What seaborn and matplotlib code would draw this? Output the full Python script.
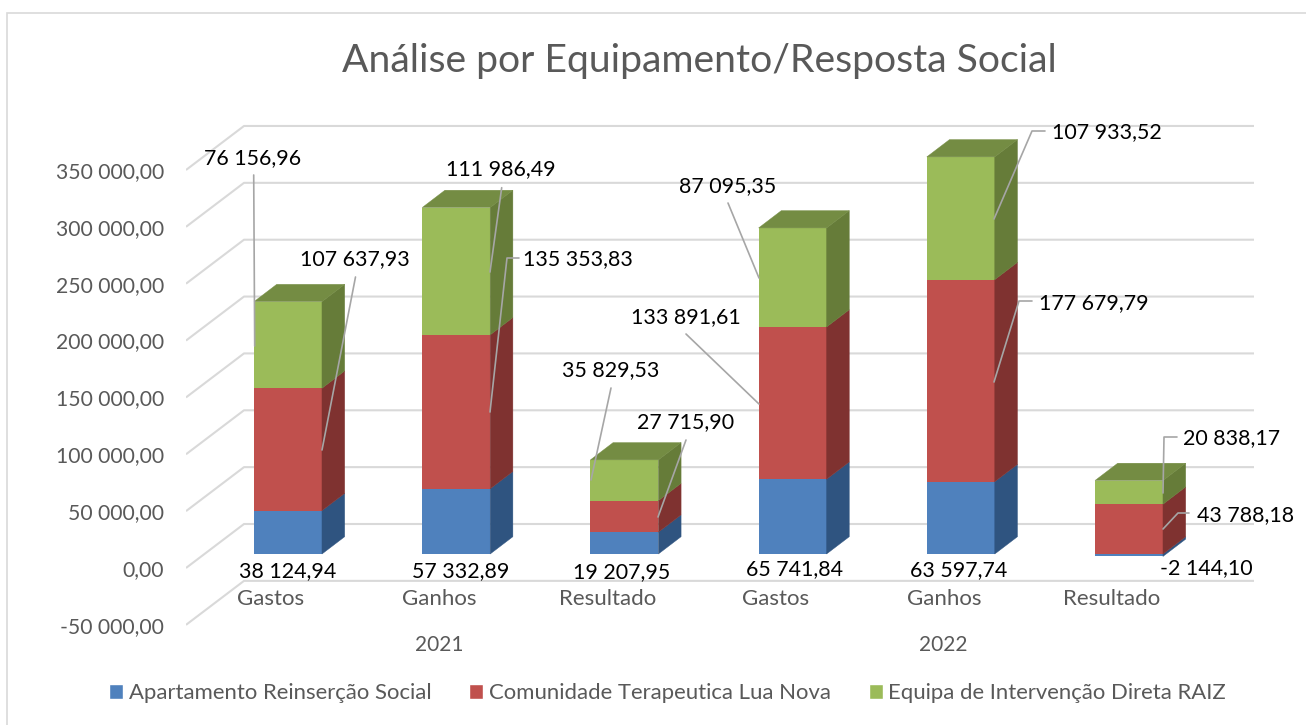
import matplotlib
matplotlib.use('Agg')
import matplotlib.pyplot as plt
import pandas as pd
import seaborn as sns
from matplotlib.patches import Polygon, Rectangle
from matplotlib.transforms import ScaledTranslation

# Data
categories = ['Gastos', 'Ganhos', 'Resultado', 'Gastos', 'Ganhos', 'Resultado']
years = ['2021', '2022']
series_names = ['Apartamento Reinserção Social', 'Comunidade Terapeutica Lua Nova', 'Equipa de Intervenção Direta RAIZ']
apartamento = [38124.94, 57332.89, 19207.95, 65741.84, 63597.74, -2144.10]
comunidade = [107637.93, 135353.83, 27715.90, 133891.61, 177679.79, 43788.18]
equipa = [76156.96, 111986.49, 35829.53, 87095.35, 107933.52, 20838.17]
y_ticks = [-50000, 0, 50000, 100000, 150000, 200000, 250000, 300000, 350000]

W, H = 1306, 725
FONT = 'Lato'
GREY = '#595959'
GRID = '#D9D9D9'
front_cols = ['#4F81BD', '#C0504D', '#9BBB59']
side_cols = ['#2F5480', '#7F3230', '#667C39']
top_cols = ['#3F6A9E', '#A04340', '#748C43']

sns.set_style('white')
plt.rcParams['font.family'] = [FONT, 'DejaVu Sans']


def pix(x, y):
    return x / W, 1 - y / H


def fmt(v):
    return f'{v:,.2f}'.replace(',', ' ').replace('.', ',')


df = pd.DataFrame({'pos': range(6), 'a': apartamento, 'c': comunidade, 'e': equipa})

fig = plt.figure(figsize=(W / 100, H / 100), dpi=100)
# axes box, pixels of the image: x 186-1254, 0 of the bars at y=554
px_per_unit = 56.86 / 50000
y_bottom = 640
y_top = 100
ax = fig.add_axes([186 / W, 1 - y_bottom / H, (1254 - 186) / W, (y_bottom - y_top) / H])

# stacked bars
bar_kw = dict(saturation=1, width=0.404, ax=ax, zorder=3, linewidth=0)
pos_bottom = [max(v, 0) for v in apartamento]
top_bottom = [p + c for p, c in zip(pos_bottom, comunidade)]
sns.barplot(data=df, x='pos', y='a', color=front_cols[0], **bar_kw)
sns.barplot(data=df, x='pos', y='c', color=front_cols[1], bottom=pos_bottom, **bar_kw)
sns.barplot(data=df, x='pos', y='e', color=front_cols[2], bottom=top_bottom, **bar_kw)

cat_px = 168.2
ax.set_xlim(-(288 - 186) / cat_px, (1254 - 288) / cat_px)
ax.set_ylim(-(y_bottom - 554) / px_per_unit, (554 - y_top) / px_per_unit)

# depth of the columns and of the floor/walls
bar_dx, bar_dy = 22.7 / cat_px, 17.3 / px_per_unit
for s, bars in enumerate([ax.patches[:6], ax.patches[6:12], ax.patches[12:18]]):
    for b in bars:
        x0, x1 = b.get_x(), b.get_x() + b.get_width()
        y0, y1 = b.get_y(), b.get_y() + b.get_height()
        ax.add_patch(Polygon([(x1, y0), (x1 + bar_dx, y0 + bar_dy), (x1 + bar_dx, y1 + bar_dy), (x1, y1)],
                             facecolor=side_cols[s], edgecolor=side_cols[s], lw=0.3, zorder=3))
        if s == 2:
            ax.add_patch(Polygon([(x0, y1), (x0 + bar_dx, y1 + bar_dy), (x1 + bar_dx, y1 + bar_dy), (x1, y1)],
                                 facecolor=top_cols[s], edgecolor=top_cols[s], lw=0.3, zorder=3))

# back wall gridlines and the diagonal side wall
back_shift = (554 - 524) / px_per_unit
front_shift = -(568 - 554) / px_per_unit
x_left = ax.get_xlim()[0]
x_back = x_left + (244 - 186) / cat_px
for t in y_ticks:
    ax.plot([x_left, x_back, ax.get_xlim()[1]], [t + front_shift, t + back_shift, t + back_shift],
            color=GRID, lw=1.5, zorder=1, solid_capstyle='butt', scalex=False, scaley=False)

# axes text
sns.despine(ax=ax, left=True, bottom=True)
ax.set_xlabel('')
ax.set_ylabel('')
ax.set_yticks(y_ticks)
ax.set_yticklabels([fmt(t) for t in y_ticks], fontsize=15.2, color=GREY)
ax.tick_params(axis='y', length=0, pad=16)
ax.set_xticks(range(6))
ax.set_xticklabels(categories, fontsize=16, color=GREY)
ax.tick_params(axis='x', length=0, pad=0)
down14 = ScaledTranslation(0, -14 / 100, fig.dpi_scale_trans)
for lab in ax.get_yticklabels():
    lab.set_transform(lab.get_transform() + down14)
shift_cat = ScaledTranslation(-17 / 100, -(589 - 640) / 100, fig.dpi_scale_trans)
for lab in ax.get_xticklabels():
    lab.set_transform(lab.get_transform() + shift_cat)

for i, yr in enumerate(years):
    fx, fy = pix(439 + i * 504, 645)
    fig.text(fx, fy, yr, ha='center', va='center', fontsize=15, color=GREY)

fig.text(*pix(699, 61), 'Análise por Equipamento/Resposta Social', ha='center', va='center', fontsize=28.2, color=GREY)


# data labels with leader lines, in image pixels
def label(value, cx, cy, line=None):
    fig.text(*pix(cx, cy), fmt(value), ha='center', va='center', fontsize=15.4, color='black', zorder=6)
    if line:
        xs, ys = zip(*[pix(*p) for p in line])
        ax.plot(xs, ys, color='#A6A6A6', lw=1.2, transform=fig.transFigure, clip_on=False, zorder=5,
                scalex=False, scaley=False)


label(equipa[0], 253, 158, [(253.7, 175), (254.7, 346)])
label(comunidade[0], 355, 259, [(355.5, 277), (322, 450)])
label(equipa[1], 501, 169, [(501.7, 187.7), (490, 272)])
label(comunidade[1], 578, 259, [(519, 258), (507, 258), (490, 412)])
label(equipa[2], 611, 370, [(611, 388), (591, 480)])
label(comunidade[2], 686, 422, [(686, 440), (658, 517)])
label(equipa[3], 728, 186, [(728, 203), (759, 278)])
label(comunidade[3], 686, 317, [(686, 334), (759, 404)])
label(equipa[4], 1107, 132, [(1045, 131), (1032, 131), (994, 219)])
label(comunidade[4], 1094, 303, [(1032, 301), (1019, 301), (994, 382)])
label(equipa[5], 1232, 438, [(1177, 437), (1164, 437), (1163, 493)])
label(comunidade[5], 1246, 515, [(1189, 513), (1178, 513), (1163, 529)])
label(apartamento[0], 288, 571)
label(apartamento[1], 461, 571)
label(apartamento[2], 622, 572)
label(apartamento[3], 795, 569)
label(apartamento[4], 959, 570)
label(apartamento[5], 1206, 568)

# legend
handles = [Rectangle((0, 0), 1, 1, facecolor=c) for c in front_cols]
fig.legend(handles, series_names, loc='center', bbox_to_anchor=pix(667.5, 693), ncols=3, frameon=False,
           fontsize=15.9, labelcolor=GREY, handlelength=0.64, handleheight=0.64, handletextpad=0.24, columnspacing=1.72)

# chart frame
fig.add_artist(Rectangle(pix(7, 800), 1400 / W, (800 - 13) / H, transform=fig.transFigure,
                         facecolor='none', edgecolor=GRID, lw=1.2))

fig.savefig('out.png', dpi=100)
